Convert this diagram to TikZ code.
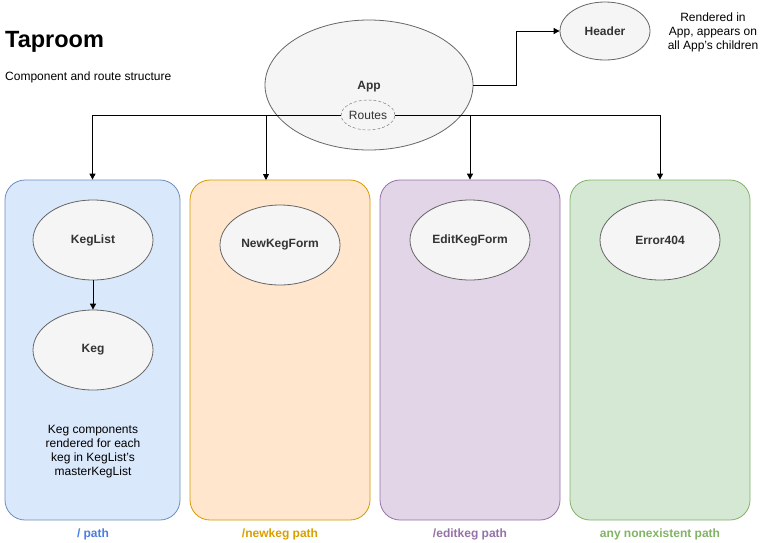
\documentclass[tikz,border=0pt]{standalone}
\usepackage{fontspec}
\setmainfont{Liberation Sans}
\usetikzlibrary{arrows.meta,shapes.geometric}
\definecolor{ellfill}{HTML}{F5F5F5}
\definecolor{ellline}{HTML}{666666}
\definecolor{elltext}{HTML}{333333}
\definecolor{bluefill}{HTML}{DAE8FC}\definecolor{blueline}{HTML}{6C8EBF}\definecolor{bluetext}{HTML}{4A7FE0}
\definecolor{orfill}{HTML}{FFE6CC}\definecolor{orline}{HTML}{D79B00}\definecolor{ortext}{HTML}{D9A000}
\definecolor{pufill}{HTML}{E1D5E7}\definecolor{puline}{HTML}{9673A6}\definecolor{putext}{HTML}{9673A6}
\definecolor{grfill}{HTML}{D5E8D4}\definecolor{grline}{HTML}{82B366}\definecolor{grtext}{HTML}{82B366}
\tikzset{
  comp/.style={ellipse, draw=ellline, fill=ellfill, text=elltext, font=\fontsize{12}{14}\selectfont\bfseries, line width=0.8pt, inner sep=0pt},
  routebox/.style={draw, rounded corners=20pt, line width=0.8pt, inner sep=0pt},
  pathlabel/.style={font=\fontsize{12}{14}\selectfont\bfseries},
  note/.style={font=\fontsize{12}{14}\selectfont, align=center},
  conn/.style={line width=0.9pt, -{Triangle[length=6pt,width=6pt]}},
}
\begin{document}
\begin{tikzpicture}[x=1pt,y=-1pt]
\useasboundingbox[fill=white] (0,0) rectangle (761,542);
% route boxes
\node[routebox, draw=blueline, fill=bluefill, minimum width=175pt, minimum height=340pt] (b1) at (92.5,350) {};
\node[routebox, draw=orline, fill=orfill, minimum width=180pt, minimum height=340pt] (b2) at (280,350) {};
\node[routebox, draw=puline, fill=pufill, minimum width=180pt, minimum height=340pt] (b3) at (470,350) {};
\node[routebox, draw=grline, fill=grfill, minimum width=180pt, minimum height=340pt] (b4) at (660,350) {};
% path labels
\node[pathlabel, text=bluetext] (l1) at (93,534) {/ path};
\node[pathlabel, text=ortext] (l2) at (280,534) {/newkeg path};
\node[pathlabel, text=putext] (l3) at (470,534) {/editkeg path};
\node[pathlabel, text=grtext] (l4) at (660,534) {any nonexistent path};
% title
\node[anchor=west, inner sep=0pt, font=\fontsize{23.5}{26}\selectfont\bfseries] (title) at (5,42) {Taproom};
\node[anchor=west, inner sep=0pt, font=\fontsize{12}{14}\selectfont] (sub) at (5,77) {Component and route structure};
% App
\node[comp, minimum width=208pt, minimum height=130pt] (app) at (369,85) {};
\node[font=\fontsize{12}{14}\selectfont\bfseries, text=elltext] (applabel) at (369,87) {App};
\node[ellipse, draw=ellline, dashed, dash pattern=on 3pt off 2pt, fill=ellfill, minimum width=50pt, minimum height=30pt, inner sep=0pt, font=\fontsize{12}{14}\selectfont, text=elltext] (routes) at (368,115) {Routes};
% Header
\node[comp, minimum width=90pt, minimum height=58pt] (header) at (605,31) {Header};
\node[note] (hnote) at (713,32) {Rendered in\\App, appears on\\all App's children};
% components
\node[comp, minimum width=120pt, minimum height=80pt] (keglist) at (93,240) {KegList};
\node[comp, minimum width=120pt, minimum height=80pt] (keg) at (93,350) {Keg};
\node[note] (kegnote) at (93,452) {Keg components\\rendered for each\\keg in KegList's\\masterKegList};
\node[comp, minimum width=120pt, minimum height=80pt] (newkeg) at (280,245) {NewKegForm};
\node[comp, minimum width=120pt, minimum height=80pt] (editkeg) at (470,240) {EditKegForm};
\node[comp, minimum width=120pt, minimum height=80pt] (err) at (660,240) {Error404};
% connectors
\draw[conn] (app.east) -| (516.5,31) -- (header.west);
\draw[conn] (routes.west) -| (b1.north);
\draw[conn] (routes.west) -| (266,180);
\draw[conn] (routes.east) -| (b3.north);
\draw[conn] (routes.east) -| (b4.north);
\draw[conn] (keglist.south) -- (keg.north);
\end{tikzpicture}
\end{document}
